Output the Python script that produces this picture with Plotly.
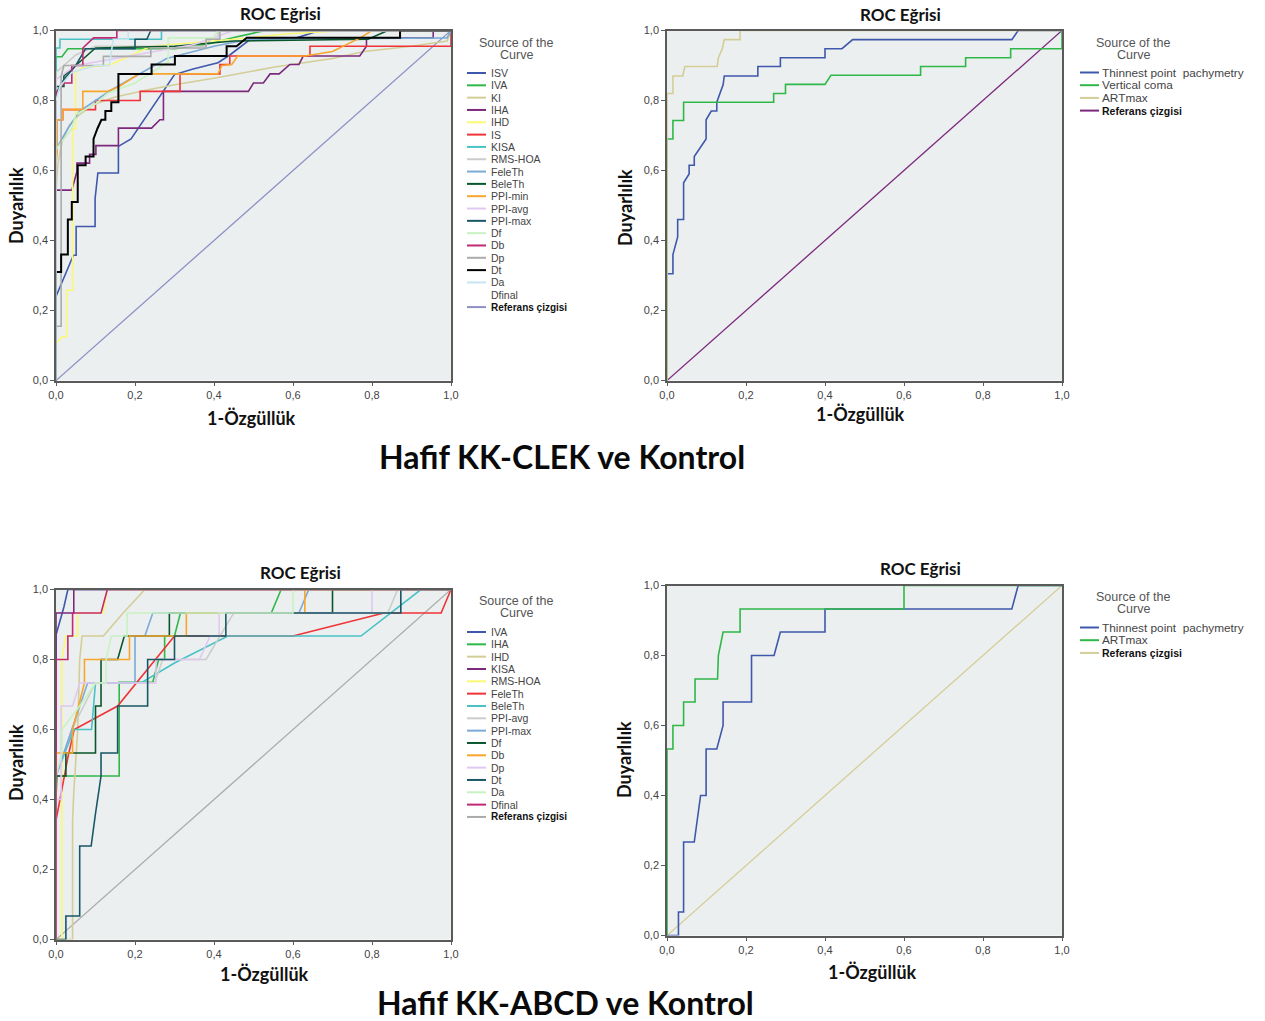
import plotly.graph_objects as go

W, H = 1265, 1021

# ---------------- Panel 1: Hafif KK-CLEK ve Kontrol (many indices) ----------------
P1_NAMES = ["ISV", "IVA", "KI", "IHA", "IHD", "IS", "KISA", "RMS-HOA", "FeleTh", "BeleTh",
            "PPI-min", "PPI-avg", "PPI-max", "Df", "Db", "Dp", "Dt", "Da", "Dfinal"]
P1_COLORS = ["#3E58AC", "#2EB848", "#D3CE97", "#7C287D", "#FBF873", "#EF3338", "#48C2C5", "#CCCCCC",
             "#7AAAD5", "#0A562C", "#F8A52B", "#E1C8F0", "#195766", "#C8F2C2", "#C12A73", "#ABABAB",
             "#000000", "#C3E6F0", None]
P1_REF_COLOR = "#8F8FC6"

P1_ISV = ([0, 0, 0.044, 0.051, 0.051, 0.099, 0.099, 0.106, 0.158, 0.158, 0.19, 0.263, 0.272, 0.3, 0.347, 0.41, 0.44, 0.491, 0.609, 0.668, 1],
          [0, 0.24, 0.358, 0.358, 0.44, 0.44, 0.52, 0.593, 0.593, 0.669, 0.69, 0.812, 0.826, 0.874, 0.89, 0.908, 0.93, 0.974, 0.979, 1.0, 1])
P1_IVA = ([0, 0, 0.015, 0.03, 0.3, 0.38, 0.45, 0.53, 1],
          [0, 0.925, 0.925, 0.948, 0.948, 0.96, 0.98, 1.0, 1])
P1_KI = ([0, 0, 0.005, 0.015, 0.034, 0.06, 0.094, 0.15, 0.23, 0.3, 0.407, 0.55, 0.7, 0.78, 0.9, 0.99, 1],
         [0, 0.54, 0.62, 0.68, 0.73, 0.76, 0.788, 0.81, 0.83, 0.845, 0.865, 0.895, 0.92, 0.94, 0.955, 0.97, 1])
P1_IHA = ([0, 0, 0.04, 0.053, 0.053, 0.085, 0.085, 0.101, 0.101, 0.158, 0.158, 0.242, 0.263, 0.272, 0.272, 0.487, 0.5, 0.525, 0.542, 0.565, 0.592, 0.615, 0.626, 0.769, 0.786, 0.786, 0.955, 0.955, 1],
          [0, 0.544, 0.544, 0.597, 0.621, 0.621, 0.646, 0.646, 0.671, 0.671, 0.721, 0.721, 0.745, 0.745, 0.826, 0.826, 0.85, 0.85, 0.876, 0.876, 0.903, 0.903, 0.927, 0.927, 0.955, 0.979, 0.979, 1.0, 1])
P1_IHD = ([0, 0, 0.015, 0.027, 0.027, 0.042, 0.042, 0.05, 0.05, 0.065, 0.14, 0.24, 0.45, 0.58, 0.73, 1],
          [0, 0.105, 0.125, 0.125, 0.258, 0.258, 0.72, 0.72, 0.88, 0.893, 0.903, 0.955, 0.975, 0.99, 1.0, 1])
P1_IS = ([0, 0, 0.017, 0.017, 0.1, 0.1, 0.213, 0.213, 0.314, 0.314, 0.415, 0.415, 0.44, 0.44, 0.643, 0.643, 1, 1],
         [0, 0.745, 0.745, 0.774, 0.774, 0.8, 0.8, 0.826, 0.826, 0.876, 0.876, 0.903, 0.903, 0.927, 0.927, 0.955, 0.955, 1])
P1_KISA = ([0, 0, 0.01, 0.01, 0.267, 0.267, 1],
           [0, 0.95, 0.95, 0.975, 0.975, 1, 1])
P1_RMSHOA = ([0, 0, 0.05, 0.1, 0.38, 0.39, 0.41, 0.41, 1],
             [0, 0.88, 0.93, 0.955, 0.955, 0.975, 0.975, 1, 1])
P1_FELETH = ([0, 0, 0.03, 0.06, 0.14, 0.28, 0.4, 0.49, 0.99, 1],
             [0, 0.66, 0.72, 0.77, 0.83, 0.92, 0.955, 0.975, 0.979, 1])
P1_BELETH = ([0, 0, 0.02, 0.02, 0.05, 0.1, 0.3, 0.45, 0.79, 0.84, 1],
             [0, 0.84, 0.84, 0.87, 0.9, 0.95, 0.955, 0.97, 0.975, 1, 1])
P1_PPIMIN = ([0, 0, 0.003, 0.003, 0.017, 0.017, 0.068, 0.068, 0.13, 0.16, 0.21, 0.41, 0.42, 0.445, 0.46, 0.63, 0.7, 0.77, 0.8, 1],
             [0, 0.62, 0.65, 0.745, 0.745, 0.774, 0.774, 0.826, 0.826, 0.84, 0.876, 0.876, 0.9, 0.903, 0.927, 0.927, 0.94, 0.979, 1, 1])
P1_PPIAVG = ([0, 0, 0.05, 0.15, 0.25, 0.35, 0.45, 1],
             [0, 0.86, 0.9, 0.92, 0.94, 0.96, 1, 1])
P1_PPIMAX = ([0, 0, 0.02, 0.05, 0.075, 0.2, 0.2, 0.23, 0.24, 1],
             [0, 0.82, 0.86, 0.9, 0.948, 0.948, 0.975, 0.975, 1, 1])
P1_DF = ([0, 0, 0.04, 0.05, 0.1, 0.13, 0.2, 0.284, 0.284, 0.398, 0.41, 1],
         [0, 0.66, 0.72, 0.76, 0.79, 0.82, 0.85, 0.91, 0.979, 0.979, 1, 1])
P1_DB = ([0, 0, 0.02, 0.04, 0.04, 0.068, 0.068, 0.095, 0.154, 0.154, 1],
         [0, 0.82, 0.85, 0.85, 0.9, 0.9, 0.95, 0.979, 0.979, 1, 1])
P1_DP = ([0, 0, 0.013, 0.013, 0.02, 0.12, 0.12, 0.24, 0.24, 0.38, 0.38, 0.415, 0.415, 1],
         [0, 0.155, 0.155, 0.87, 0.9, 0.9, 0.926, 0.926, 0.95, 0.95, 0.975, 0.975, 1, 1])
P1_DT = ([0, 0, 0.013, 0.013, 0.03, 0.03, 0.04, 0.04, 0.055, 0.055, 0.075, 0.075, 0.095, 0.095, 0.105, 0.115, 0.125, 0.125, 0.14, 0.14, 0.158, 0.158, 0.242, 0.242, 0.301, 0.301, 0.432, 0.432, 0.457, 0.483, 0.871, 0.871, 1],
         [0, 0.31, 0.31, 0.36, 0.36, 0.46, 0.46, 0.51, 0.51, 0.615, 0.615, 0.64, 0.64, 0.69, 0.72, 0.745, 0.745, 0.77, 0.77, 0.795, 0.795, 0.876, 0.876, 0.903, 0.903, 0.927, 0.927, 0.955, 0.955, 0.979, 0.979, 1, 1])
P1_DA = ([0, 0, 0.01, 0.04, 0.1, 0.135, 0.145, 0.183, 0.183, 1],
         [0, 0.8, 0.84, 0.88, 0.9, 0.9, 0.975, 0.975, 1, 1])
P1_DFINAL = ([], [])
P1_DATA = [P1_ISV, P1_IVA, P1_KI, P1_IHA, P1_IHD, P1_IS, P1_KISA, P1_RMSHOA, P1_FELETH, P1_BELETH,
           P1_PPIMIN, P1_PPIAVG, P1_PPIMAX, P1_DF, P1_DB, P1_DP, P1_DT, P1_DA, P1_DFINAL]

# ---------------- Panel 2: Hafif KK-CLEK ve Kontrol (tomography) ----------------
P2_NAMES = ["Thinnest point  pachymetry", "Vertical coma", "ARTmax"]
P2_COLORS = ["#3E58AC", "#2EB848", "#D3CE97"]
P2_REF_COLOR = "#7C287D"
P2_TPP = ([0, 0, 0.015, 0.015, 0.027, 0.027, 0.042, 0.042, 0.056, 0.056, 0.069, 0.069, 0.099, 0.099, 0.112, 0.126, 0.126, 0.142, 0.145, 0.23, 0.23, 0.287, 0.287, 0.4, 0.4, 0.443, 0.47, 0.873, 0.889, 1],
          [0, 0.305, 0.305, 0.36, 0.41, 0.46, 0.46, 0.565, 0.59, 0.615, 0.615, 0.64, 0.69, 0.745, 0.77, 0.77, 0.795, 0.845, 0.87, 0.87, 0.897, 0.897, 0.922, 0.922, 0.948, 0.948, 0.974, 0.974, 1.0, 1])
P2_VCOMA = ([0, 0, 0.015, 0.015, 0.042, 0.042, 0.27, 0.27, 0.3, 0.3, 0.4, 0.415, 0.642, 0.642, 0.756, 0.756, 0.87, 0.87, 1.0, 1.0],
            [0, 0.69, 0.69, 0.743, 0.743, 0.795, 0.795, 0.82, 0.82, 0.846, 0.846, 0.872, 0.872, 0.897, 0.897, 0.922, 0.922, 0.948, 0.948, 1.0])
P2_ARTMAX = ([0, 0, 0.015, 0.015, 0.04, 0.045, 0.127, 0.13, 0.14, 0.145, 0.185, 0.185, 1],
             [0, 0.82, 0.82, 0.87, 0.87, 0.897, 0.897, 0.922, 0.948, 0.974, 0.974, 1.0, 1])
P2_DATA = [P2_TPP, P2_VCOMA, P2_ARTMAX]

# ---------------- Panel 3: Hafif KK-ABCD ve Kontrol (indices) ----------------
P3_NAMES = ["IVA", "IHA", "IHD", "KISA", "RMS-HOA", "FeleTh", "BeleTh", "PPI-avg", "PPI-max",
            "Df", "Db", "Dp", "Dt", "Da", "Dfinal"]
P3_COLORS = ["#3E58AC", "#2EB848", "#D3CE97", "#7C287D", "#FBF873", "#EF3338", "#48C2C5", "#CCCCCC",
             "#7AAAD5", "#0A562C", "#F8A52B", "#E1C8F0", "#195766", "#C8F2C2", "#C12A73"]
P3_REF_COLOR = "#ABABAB"
P3_IVA = ([0, 0, 0.02, 0.03, 1], [0, 0.87, 0.95, 1.0, 1])
P3_IHA = ([0, 0, 0.003, 0.114, 0.16, 0.16, 0.245, 0.26, 0.275, 0.275, 0.3, 0.315, 0.545, 0.57, 1],
          [0, 0.41, 0.467, 0.467, 0.467, 0.735, 0.735, 0.8, 0.8, 0.867, 0.867, 0.933, 0.933, 1.0, 1])
P3_IHD = ([0, 0.042, 0.042, 0.045, 0.055, 0.06, 0.066, 0.12, 0.17, 0.225, 1],
          [0, 0, 0.34, 0.42, 0.6, 0.8, 0.867, 0.867, 0.933, 1.0, 1])
P3_KISA = ([0, 0, 0.045, 0.045, 1], [0, 0.933, 0.933, 1.0, 1])
P3_RMSHOA = ([0, 0.015, 0.015, 0.025, 0.055, 0.055, 0.12, 0.13, 1],
             [0, 0, 0.8, 0.867, 0.867, 0.933, 0.933, 1.0, 1])
P3_FELETH = ([0, 0, 0.03, 0.046, 0.156, 0.257, 0.3, 0.6, 0.83, 0.975, 1.0],
             [0, 0.34, 0.52, 0.6, 0.667, 0.807, 0.867, 0.867, 0.933, 0.933, 1.0])
P3_BELETH = ([0, 0, 0.045, 0.09, 0.1, 0.215, 0.3, 0.435, 0.772, 0.924, 1],
             [0, 0.467, 0.6, 0.6, 0.733, 0.733, 0.79, 0.867, 0.867, 1.0, 1])
P3_PPIAVG = ([0, 0, 0.04, 0.07, 0.1, 0.25, 0.27, 0.38, 0.45, 0.84, 0.865, 1],
             [0, 0.467, 0.6, 0.667, 0.733, 0.733, 0.8, 0.8, 0.933, 0.933, 1.0, 1])
P3_PPIMAX = ([0, 0, 0.08, 0.2, 0.2, 0.225, 0.245, 0.615, 0.64, 1],
             [0, 0.467, 0.733, 0.733, 0.867, 0.867, 0.933, 0.933, 1.0, 1])
P3_DF = ([0, 0, 0.025, 0.025, 0.1, 0.1, 0.114, 0.114, 0.156, 0.173, 0.287, 0.287, 0.7, 0.7, 1],
         [0, 0.467, 0.467, 0.533, 0.533, 0.667, 0.667, 0.8, 0.8, 0.867, 0.867, 0.933, 0.933, 1.0, 1])
P3_DB = ([0, 0, 0.042, 0.042, 0.072, 0.072, 0.186, 0.186, 0.33, 0.33, 0.63, 0.63, 1],
         [0, 0.533, 0.533, 0.6, 0.733, 0.8, 0.8, 0.867, 0.867, 0.933, 0.933, 1.0, 1])
P3_DP = ([0, 0, 0.013, 0.013, 0.042, 0.06, 0.253, 0.253, 0.363, 0.39, 0.413, 0.413, 0.8, 0.8, 1],
         [0, 0.4, 0.4, 0.667, 0.667, 0.733, 0.733, 0.8, 0.8, 0.867, 0.867, 0.933, 0.933, 1.0, 1])
P3_DT = ([0, 0.025, 0.025, 0.06, 0.06, 0.089, 0.1, 0.105, 0.114, 0.114, 0.156, 0.156, 0.232, 0.232, 0.3, 0.3, 0.43, 0.43, 0.873, 0.873, 1],
         [0, 0, 0.067, 0.067, 0.267, 0.267, 0.36, 0.4, 0.467, 0.533, 0.533, 0.667, 0.667, 0.8, 0.8, 0.867, 0.867, 0.933, 0.933, 1.0, 1])
P3_DA = ([0, 0, 0.015, 0.015, 0.06, 0.1, 0.127, 0.127, 0.14, 0.18, 0.18, 0.6, 0.6, 1],
         [0, 0.467, 0.533, 0.6, 0.667, 0.733, 0.733, 0.8, 0.867, 0.867, 0.933, 0.933, 1.0, 1])
P3_DFINAL = ([0, 0, 0.03, 0.03, 0.042, 0.042, 0.114, 0.13, 1],
             [0, 0.8, 0.8, 0.867, 0.867, 0.933, 0.933, 1.0, 1])
P3_DATA = [P3_IVA, P3_IHA, P3_IHD, P3_KISA, P3_RMSHOA, P3_FELETH, P3_BELETH, P3_PPIAVG, P3_PPIMAX,
           P3_DF, P3_DB, P3_DP, P3_DT, P3_DA, P3_DFINAL]

# ---------------- Panel 4: Hafif KK-ABCD ve Kontrol (tomography) ----------------
P4_NAMES = ["Thinnest point  pachymetry", "ARTmax"]
P4_COLORS = ["#3E58AC", "#2EB848"]
P4_REF_COLOR = "#D3CE97"
P4_TPP = ([0, 0.029, 0.029, 0.042, 0.042, 0.069, 0.085, 0.099, 0.099, 0.126, 0.142, 0.142, 0.214, 0.214, 0.271, 0.287, 0.4, 0.4, 0.873, 0.889, 1],
          [0, 0, 0.067, 0.067, 0.267, 0.267, 0.4, 0.4, 0.533, 0.533, 0.6, 0.667, 0.667, 0.8, 0.8, 0.867, 0.867, 0.933, 0.933, 1.0, 1])
P4_ARTMAX = ([0, 0, 0.015, 0.015, 0.042, 0.042, 0.071, 0.071, 0.128, 0.13, 0.142, 0.185, 0.185, 0.6, 0.6, 1],
             [0, 0.533, 0.533, 0.6, 0.6, 0.667, 0.667, 0.733, 0.733, 0.8, 0.867, 0.867, 0.933, 0.933, 1.0, 1])
P4_DATA = [P4_TPP, P4_ARTMAX]

REF_LINE = ([0, 1], [0, 1])
REF_NAME = "Referans çizgisi"
TICK_VALS = [0, 0.2, 0.4, 0.6, 0.8, 1.0]
TICK_TEXT = ["0,0", "0,2", "0,4", "0,6", "0,8", "1,0"]
SUBPLOT_TITLE = "ROC Eğrisi"
Y_TITLE = "Duyarlılık"
X_TITLE = "1-Özgüllük"
MAIN_TITLES = ["Hafif KK-CLEK ve Kontrol", "Hafif KK-ABCD ve Kontrol"]

# ---------------- layout geometry (pixels) ----------------
def fx(p):
    return p / W

def fy(p):
    return 1 - p / H

panels = [
    dict(names=P1_NAMES, colors=P1_COLORS, data=P1_DATA, ref=P1_REF_COLOR,
         box=(56, 451, 30.5, 380.5), title=(280, 13), ytitle=(16, 206), xtitle=(252, 418),
         leg=dict(lx0=467, lx1=486, tx=489, y0=73, dy=12.32, hx=516, hy=(43, 55), fs=10.5, rfs=10)),
    dict(names=P2_NAMES, colors=P2_COLORS, data=P2_DATA, ref=P2_REF_COLOR,
         box=(667, 1062, 30.5, 380.5), title=(900, 14), ytitle=(625, 208), xtitle=(860, 414),
         leg=dict(lx0=1080, lx1=1099, tx=1100, y0=72.5, dy=12.7, hx=1133, hy=(43, 55), fs=11.8, rfs=10.5)),
    dict(names=P3_NAMES, colors=P3_COLORS, data=P3_DATA, ref=P3_REF_COLOR,
         box=(56, 451, 589.5, 939.5), title=(300, 572), ytitle=(16, 763), xtitle=(264, 974),
         leg=dict(lx0=467, lx1=486, tx=489, y0=632, dy=12.33, hx=516, hy=(601, 613), fs=10.5, rfs=10)),
    dict(names=P4_NAMES, colors=P4_COLORS, data=P4_DATA, ref=P4_REF_COLOR,
         box=(667, 1062, 585.5, 935.5), title=(920, 568), ytitle=(624, 760), xtitle=(872, 972),
         leg=dict(lx0=1080, lx1=1099, tx=1100, y0=627.5, dy=12.7, hx=1133, hy=(597, 609), fs=11.8, rfs=10.5)),
]

fig = go.Figure()
annotations = []
shapes = []
TITLE_FONT = "Lato, Open Sans, sans-serif"
SMALL_FONT = "Liberation Sans, Arial, sans-serif"
AXIS_COLOR = "#5a5a5a"

for i, p in enumerate(panels, start=1):
    xa = "x" if i == 1 else f"x{i}"
    ya = "y" if i == 1 else f"y{i}"
    x0, x1, y0, y1 = p["box"]
    axis_common = dict(range=[0, 1], tickvals=TICK_VALS, ticktext=TICK_TEXT, showgrid=False,
                       zeroline=False, showline=True, mirror=True, linecolor=AXIS_COLOR,
                       linewidth=1.5, ticks="outside", ticklen=4, tickcolor=AXIS_COLOR,
                       tickfont=dict(family=SMALL_FONT, size=11, color="#444444"), fixedrange=True,
                       automargin=False)
    fig.update_layout(**{
        ("xaxis" if i == 1 else f"xaxis{i}"): dict(domain=[fx(x0), fx(x1)], anchor=ya, **axis_common),
        ("yaxis" if i == 1 else f"yaxis{i}"): dict(domain=[fy(y1), fy(y0)], anchor=xa, **axis_common),
    })
    # reference line drawn first (below curves)
    fig.add_trace(go.Scatter(x=REF_LINE[0], y=REF_LINE[1], mode="lines", xaxis=xa, yaxis=ya,
                             line=dict(color=p["ref"], width=1.3), showlegend=False, hoverinfo="skip"))
    for name, color, (xs, ys) in zip(p["names"], p["colors"], p["data"]):
        if color is None or len(xs) == 0:
            continue
        width = 2.0 if color == "#000000" else 1.6
        fig.add_trace(go.Scatter(x=xs, y=ys, mode="lines", name=name, xaxis=xa, yaxis=ya,
                                 line=dict(color=color, width=width), showlegend=False))

    # subplot titles and axis titles
    tx, ty = p["title"]
    annotations.append(dict(text=f"<b>{SUBPLOT_TITLE}</b>", x=fx(tx), y=fy(ty), xref="paper", yref="paper",
                            xanchor="center", yanchor="middle", showarrow=False,
                            font=dict(family=TITLE_FONT, size=17, color="#111111")))
    yx, yy = p["ytitle"]
    annotations.append(dict(text=f"<b>{Y_TITLE}</b>", x=fx(yx), y=fy(yy), xref="paper", yref="paper",
                            xanchor="center", yanchor="middle", showarrow=False, textangle=-90,
                            font=dict(family=TITLE_FONT, size=18, color="#111111")))
    xx, xy = p["xtitle"]
    annotations.append(dict(text=f"<b>{X_TITLE}</b>", x=fx(xx), y=fy(xy), xref="paper", yref="paper",
                            xanchor="center", yanchor="middle", showarrow=False,
                            font=dict(family=TITLE_FONT, size=18, color="#111111")))

    # legend ("Source of the Curve")
    lg = p["leg"]
    annotations.append(dict(text="Source of the", x=fx(lg["hx"]), y=fy(lg["hy"][0]), xref="paper", yref="paper",
                            xanchor="center", yanchor="middle", showarrow=False,
                            font=dict(family=SMALL_FONT, size=12.5, color="#555555")))
    annotations.append(dict(text="Curve", x=fx(lg["hx"]), y=fy(lg["hy"][1]), xref="paper", yref="paper",
                            xanchor="center", yanchor="middle", showarrow=False,
                            font=dict(family=SMALL_FONT, size=12.5, color="#555555")))
    entries = list(zip(p["names"], p["colors"])) + [(REF_NAME, p["ref"])]
    for k, (name, color) in enumerate(entries):
        ey = lg["y0"] + k * lg["dy"]
        if color is not None:
            shapes.append(dict(type="line", xref="paper", yref="paper", x0=fx(lg["lx0"]), x1=fx(lg["lx1"]),
                               y0=fy(ey), y1=fy(ey), line=dict(color=color, width=2)))
        is_ref = name == REF_NAME
        annotations.append(dict(text=(f"<b>{name}</b>" if is_ref else name), x=fx(lg["tx"]), y=fy(ey),
                                xref="paper", yref="paper", xanchor="left", yanchor="middle", showarrow=False,
                                font=dict(family=SMALL_FONT, size=(lg["rfs"] if is_ref else lg["fs"]),
                                          color=("#111111" if is_ref else "#444444"))))

# main titles
for text, (mx, my) in zip(MAIN_TITLES, [(562, 456), (565, 1002)]):
    annotations.append(dict(text=f"<b>{text}</b>", x=fx(mx), y=fy(my), xref="paper", yref="paper",
                            xanchor="center", yanchor="middle", showarrow=False,
                            font=dict(family=TITLE_FONT, size=32, color="#0a0a0a")))

fig.update_layout(width=W, height=H, margin=dict(l=0, r=0, t=0, b=0, autoexpand=False), autosize=False,
                  paper_bgcolor="white", plot_bgcolor="#ECEFEF", showlegend=False,
                  annotations=annotations, shapes=shapes)

fig.write_html("out.html", post_script="document.body.style.margin='0';document.body.style.overflow='hidden';")
